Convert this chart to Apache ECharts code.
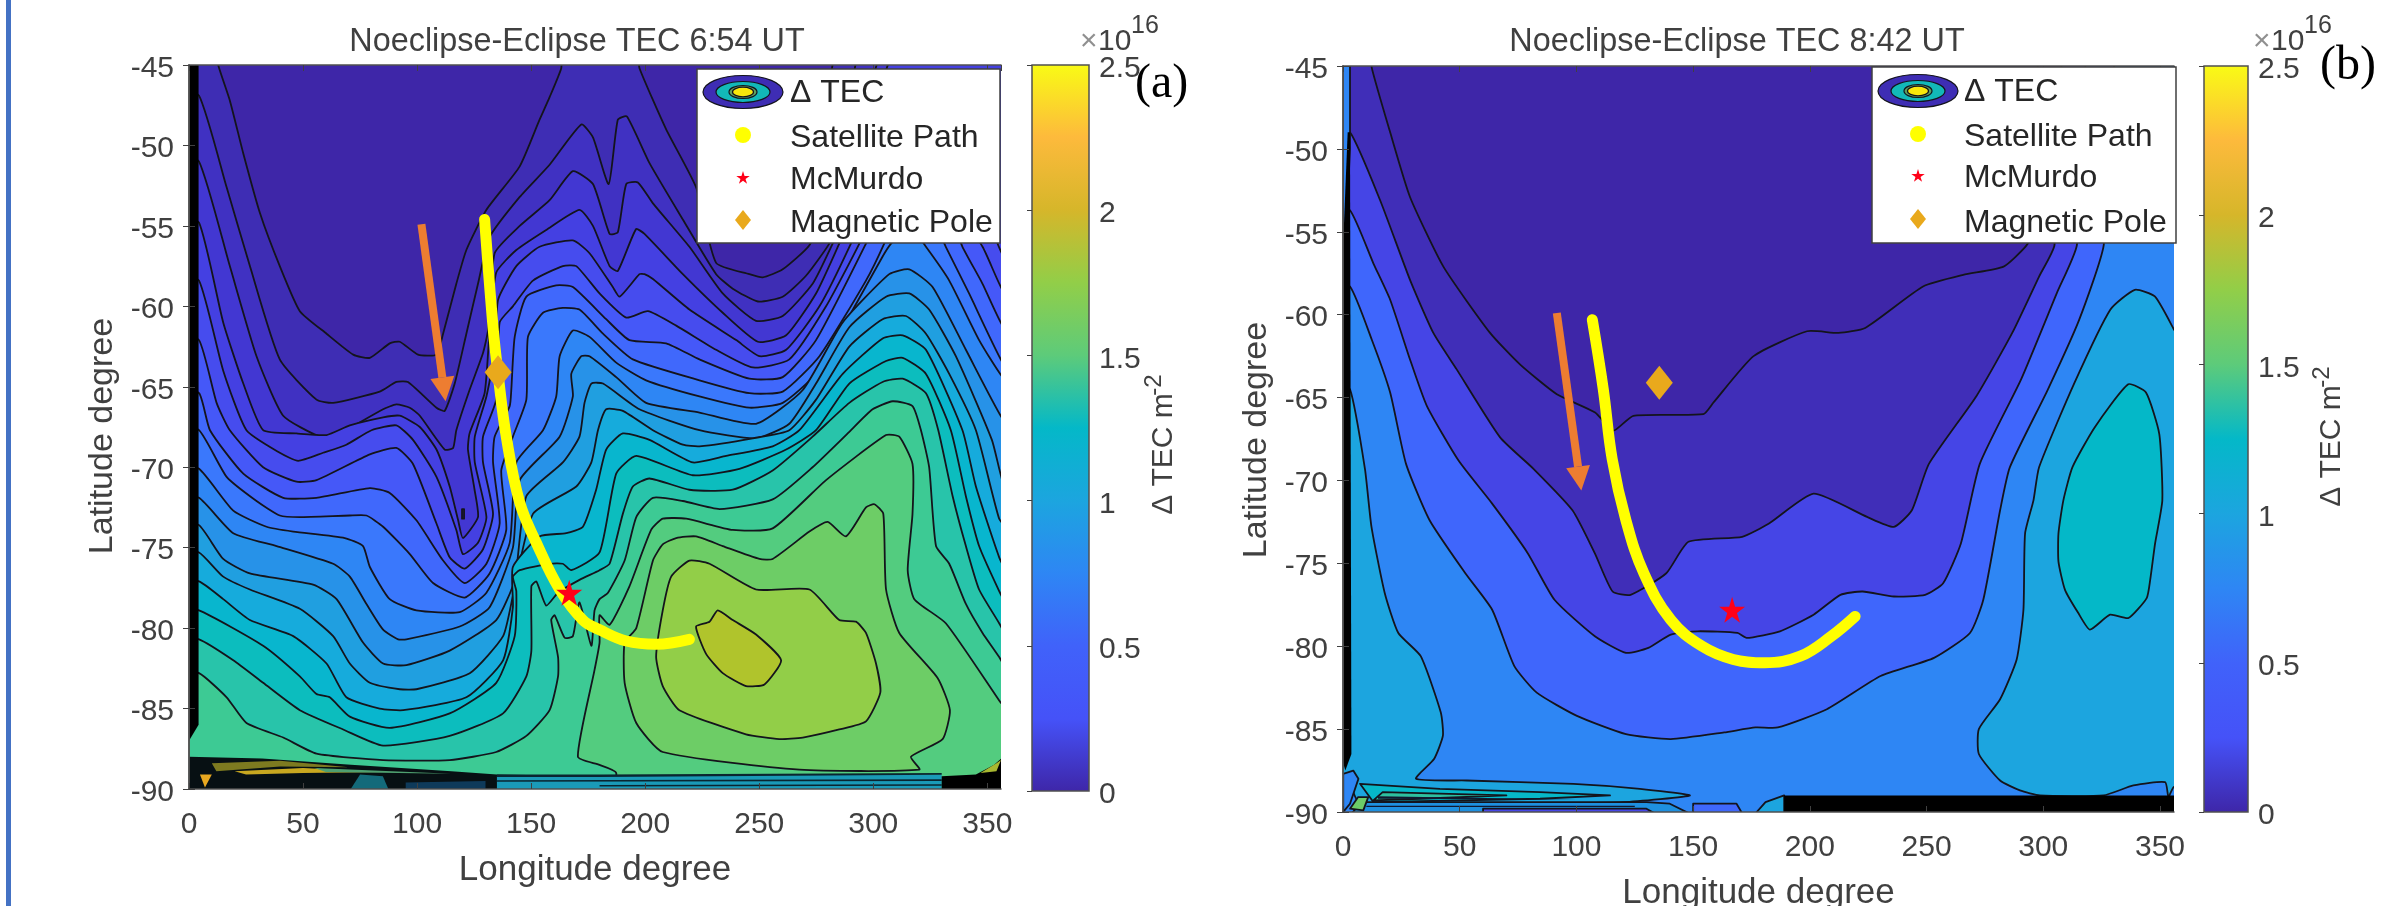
<!DOCTYPE html>
<html><head><meta charset="utf-8"><title>TEC</title>
<style>html,body{margin:0;padding:0;background:#fff}#c{width:2399px;height:906px}</style>
<script src="https://cdn.jsdelivr.net/npm/echarts@6/dist/echarts.min.js"></script></head>
<body><div id="c"></div><script>
const titleA='Noeclipse-Eclipse TEC 6:54 UT', titleB='Noeclipse-Eclipse TEC 8:42 UT';
const parulaStops=['#3E26A8','#4552F8','#4062FA','#2E86F4','#1CA5DF','#04B8C8','#5DCB7A','#92CE48','#D6B62A','#FDBA3C','#F9FB15'];
const a1=[[12,-44],[12.8,-45],[17.9,-47.2],[23.8,-50.5],[31.1,-54.2],[39.8,-57.5],[48.6,-60.3],[60.3,-61.7],[72,-63],[79.3,-63.2],[88,-62.3],[92.4,-62.2],[100.4,-63],[108.5,-63],[111.4,-61.7],[117.2,-58.6],[121.6,-56.5],[130.4,-54],[145,-51.3],[153.7,-48.4],[158.1,-47],[163.2,-45.2],[164,-44],[196,-44],[197.5,-45.2],[209.2,-49],[222.3,-52.6],[231.1,-57.3],[245.7,-58],[251.5,-58.2],[260.3,-57.7],[272,-56.2],[279.3,-53.8],[285,-44]];
const a2=[[4.4,-46.9],[16.5,-52.6],[26.7,-57.5],[39.8,-63.3],[55.9,-65.8],[63.2,-66],[83.6,-65.3],[90.9,-64.7],[96,-64.7],[108.5,-66.3],[112.1,-66.5],[116.5,-64.8],[121.6,-61.7],[126.7,-58.6],[131.8,-55.7],[145,-53.2],[158.1,-51.2],[172,-48.7],[177.1,-49.5],[184,-52.4],[188,-48.4],[192,-48.2],[201.9,-51.1],[216.5,-54.6],[231.1,-58],[238.4,-58.9],[249.4,-59.7],[260.3,-59.4],[270.5,-58.1],[280.7,-56.1],[288,-53.8],[295,-44]];
const a3=[[4.4,-51],[17.9,-57.5],[29.6,-63.1],[41.3,-66.8],[57.4,-68.1],[64.7,-68],[85.1,-66.4],[90.9,-66.1],[96.8,-66.3],[101.2,-66.8],[112.1,-68.9],[115.8,-68.8],[117.2,-67.7],[123,-65.2],[128.9,-62.9],[131.1,-61.5],[134,-56.7],[145,-55],[158.1,-53.4],[168.3,-51.6],[177.1,-52.4],[184.4,-55.5],[188,-55.4],[191.7,-52.4],[196.8,-52.3],[203.4,-53.6],[219.4,-56.3],[234,-59.2],[248.6,-60.9],[260.3,-60.6],[273.4,-58.6],[282.2,-56.1],[289.5,-53.8],[305,-44]];
const a4=[[4.4,-54.8],[15,-61],[23.8,-64.8],[32.5,-67.7],[47.1,-67.9],[60.3,-68],[70.5,-67.4],[85.1,-66.9],[92.4,-66.8],[101.2,-67.5],[108.5,-68.9],[114.3,-71.2],[118,-73.3],[120.1,-74.4],[126.7,-73.1],[125.2,-71.4],[122.3,-68.9],[123,-67.9],[129.6,-65.4],[131.8,-61.5],[134.7,-57.9],[143.5,-56.5],[156.6,-55.25],[171.2,-54],[177.1,-55],[184.4,-57.5],[188,-57.8],[196,-55.2],[199.7,-55.5],[216.5,-58],[234,-60.4],[249.4,-62.2],[261.8,-61.8],[274.9,-59.2],[285.1,-56.1],[292.4,-53.8],[310,-44]];
const a5=[[4.4,-58.4],[15,-64],[25.2,-67.7],[39.8,-69.1],[47.9,-69.6],[58.8,-69.1],[69,-68.6],[80,-67.7],[90.9,-67.4],[98.2,-68.3],[108.5,-70.6],[117.2,-73.9],[120.1,-75.4],[126.7,-74.7],[130.4,-73.1],[125.3,-69.7],[125.3,-68.1],[130.4,-65.6],[134,-62.9],[135.5,-59.6],[143.5,-57.5],[153.7,-56.3],[168.3,-55.9],[175.6,-56.7],[185.8,-58.8],[188.8,-59.4],[197.5,-58],[199.7,-58],[203.4,-58.3],[219.4,-60.2],[239.9,-62.1],[250.1,-63.1],[261.8,-62.7],[276.4,-60],[290.2,-56.1],[296.8,-53.8],[318.7,-53.4],[347.9,-54.2],[356.7,-56.8]];
const a6=[[4.4,-62.1],[12.1,-66],[17.9,-67.7],[32.5,-70],[47.1,-70.9],[55.9,-70.8],[79.3,-69.2],[90.9,-68.8],[98.2,-69.8],[108.5,-73.5],[114.3,-75.6],[120.9,-76.3],[128.9,-75.1],[133.3,-72.9],[128.9,-69.7],[128.9,-68.1],[134.7,-65.8],[136.2,-61],[142,-60],[150.8,-58.4],[163.9,-57.5],[169.8,-57.5],[180,-59.2],[191.7,-60.7],[201.2,-60.3],[213.6,-61.2],[231.1,-62.7],[247.2,-63.8],[263.2,-63.3],[279.3,-60],[293.9,-56.1],[301,-53.8],[333.3,-53.4],[347.9,-56.3],[356.7,-59]];
const a7=[[4.4,-65.4],[9.2,-67.7],[23.8,-70.4],[41.3,-71.9],[55.9,-71.9],[79.3,-71.3],[88,-71.6],[99.7,-73.3],[111.4,-75.8],[120.9,-77.2],[130.4,-76],[136.2,-73.5],[133.3,-69.7],[134,-68.1],[140.6,-66.2],[141.3,-65.2],[142.8,-61.9],[147.9,-59.4],[161,-58.7],[168.3,-58.8],[182.9,-60.8],[193.1,-62.1],[209.2,-62.3],[223.8,-63.3],[245.7,-64.5],[260.3,-64.4],[274.9,-62.1],[296.8,-56.1],[304,-53.8],[330.4,-53.4],[339.1,-56.3],[347.9,-58.6],[356.7,-61.2]];
const a8=[[4.4,-67.7],[16.5,-70.6],[29.6,-72.1],[39.8,-73],[48.6,-73.1],[70.5,-73],[77.8,-73],[85.1,-73.7],[96.8,-75.4],[107,-77.2],[120.9,-78.1],[131.8,-76.6],[139.1,-73.9],[136.9,-70.2],[142,-68.1],[147.9,-65.8],[148.6,-61.9],[155.2,-60.4],[163.9,-60.1],[171.2,-60.2],[181.5,-61.7],[194.6,-63.3],[223.8,-64.6],[245.7,-65.4],[260.3,-65.3],[276.4,-63.1],[296.8,-58.4],[304.8,-56.1],[311.4,-53.8],[323.1,-53.8],[331.8,-56.3],[342,-59.2],[356.7,-63.5]];
const a9=[[4.4,-70.1],[19.4,-72.7],[34,-73.7],[45.7,-74],[68.3,-74.4],[76.3,-74.9],[79.3,-76.2],[88,-78.2],[99.7,-78.9],[118.7,-79],[130.4,-77.8],[140.6,-74.7],[143.5,-69.7],[155.2,-67.7],[161,-65.6],[162.5,-63.1],[168.3,-61.5],[175.6,-61.9],[187.3,-63.5],[200.4,-64.6],[223.8,-65.6],[245.7,-66.3],[260.3,-66],[274.9,-64.2],[289.5,-60.6],[304.1,-56.9],[307.8,-56.1],[315.8,-55],[323.1,-56.3],[333.3,-58.4],[346.4,-62.1],[356.7,-64.4]];
const a10=[[4.4,-71.9],[19.4,-74.1],[38.4,-74.9],[63.2,-76],[70.5,-76.8],[77.8,-78.5],[85.1,-80.1],[91.7,-80.7],[95.3,-80.7],[118.7,-79.9],[131.8,-78.7],[142,-75],[145,-70.8],[162.5,-68.1],[168.3,-65.6],[167.6,-64.2],[172,-63.1],[175.6,-63.1],[187.3,-64.4],[200.4,-66],[223.8,-66.6],[248.6,-67.3],[269.1,-65.2],[286.6,-61],[307,-58],[315.8,-57.7],[326,-58.8],[340.6,-62.7],[356.7,-67]];
const a11=[[4.4,-73.6],[15,-75.7],[26.7,-76.6],[54.4,-77.3],[64.7,-78.2],[76.3,-80.9],[85.1,-82.2],[95.3,-82.3],[114.3,-81.4],[134.7,-79.5],[142.8,-77],[147.9,-71.8],[163.9,-69.7],[171.2,-68.1],[173.4,-66],[176.4,-64.8],[181.5,-64.8],[197.5,-66.4],[223.8,-67.7],[248.6,-68.2],[263.2,-67.3],[274.9,-64.8],[289.5,-61.3],[305.6,-59.4],[315.8,-59.2],[324.5,-60.2],[336.2,-63.1],[352,-68.3],[357,-71]];
const a12=[[4.4,-75.3],[15,-76.8],[26.7,-77.6],[48.6,-78.8],[63.2,-80.5],[70.5,-82.2],[79.3,-83.4],[92.4,-83.8],[99.7,-83.8],[123.1,-82.8],[137.7,-80.5],[142,-78],[150.8,-72.9],[169.8,-71.2],[176.4,-69.7],[179.3,-67.7],[182.9,-66.4],[190.2,-66.5],[203.4,-67.7],[216.5,-68.6],[223.8,-68.7],[247.2,-68.2],[263.2,-67.7],[274.9,-65.8],[289.5,-62.5],[304.1,-60.8],[314.3,-60.6],[323.1,-61.7],[333.3,-64.2],[345,-67.7],[355.2,-73.2],[360,-74]];
const a13=[[4.4,-77.1],[15,-78.2],[26.7,-79.5],[45.7,-80.5],[60.3,-82.2],[69,-84.3],[83.6,-85],[93.9,-85.1],[121.6,-84.3],[137.7,-82],[142,-78.7],[142,-76.2],[153.7,-74.3],[165.4,-74.1],[172.7,-73.7],[178.5,-71.4],[182.9,-68.9],[190.2,-67.9],[201.9,-68.3],[220.9,-69.7],[235.5,-69.3],[255.9,-68.7],[267.6,-67.7],[286.6,-64.2],[304.1,-62],[312.9,-61.8],[323.1,-62.7],[339.1,-67.7],[345,-71.2],[355.2,-75.6],[360,-77]];
const a14=[[4.4,-78.9],[32.5,-81.1],[48.6,-83],[55.9,-84.1],[61.7,-84.3],[70.5,-85.5],[88,-86.2],[114.3,-85.3],[134.7,-83.4],[142.8,-80.5],[143.5,-77.7],[142,-76.8],[145,-76.4],[158.1,-76],[163.9,-76],[167.6,-76.4],[180,-75.3],[187.3,-70.4],[196.1,-69.3],[220.9,-70.5],[241.3,-70.1],[261.8,-68.9],[274.9,-67.7],[289.5,-64.8],[305.6,-63.4],[312.9,-63.2],[323.1,-64.2],[334,-67.7],[340.6,-71.8],[346.4,-74.9],[355.2,-77.7],[360,-79]];
const a15=[[4.4,-80.7],[19.4,-82],[32.5,-83.4],[48.6,-85.1],[67.6,-86.3],[85.1,-87.3],[114.3,-86.7],[137.7,-85.3],[147.9,-83],[150.1,-81.4],[150.1,-77.4],[152.3,-77.1],[156.6,-78.6],[161.8,-77.8],[171.2,-77],[180,-76.4],[184.4,-76],[190.2,-72.9],[194.6,-71.2],[201.9,-70.7],[219.4,-71.4],[238.4,-71.4],[255.9,-70.2],[273.4,-68.1],[289.5,-66],[304.1,-64.7],[312.9,-64.5],[323.1,-65.4],[328.5,-67.7],[334.8,-71.8],[340.6,-74.9],[346.4,-77.6],[355.2,-79.7],[360,-81]];
const a16=[[4.4,-82.8],[16.5,-84.3],[25.2,-85.9],[41.3,-86.8],[55.9,-87.8],[85.1,-88.2],[114.3,-88.2],[134.7,-87.7],[147.9,-86.7],[158.1,-85.1],[161.8,-83],[161.8,-81.8],[158.8,-79.5],[160.3,-79.2],[164.7,-80.6],[168.3,-80.5],[171.2,-78.4],[176.4,-81.1],[177.8,-78.9],[180,-78.2],[183.7,-77.8],[191,-75.8],[196.1,-73.1],[203.4,-71.9],[216.5,-72.1],[232.6,-72.6],[255.9,-72],[273.4,-70],[289.5,-67.8],[299.7,-66.4],[308.5,-65.9],[317.2,-66.2],[320.9,-67.7],[324.5,-70],[327.5,-74.9],[333.3,-76],[340.6,-78.5],[347.9,-80.3],[355.2,-81.8],[360,-83]];
const a17=[[187.3,-95],[187.3,-89],[180,-88.5],[170.5,-88],[177.8,-82.6],[180,-80.9],[180,-79.2],[184.4,-79.8],[193.1,-77.4],[202.6,-73.9],[207.7,-73.2],[218,-73.2],[238.4,-73.9],[255.9,-73.8],[279.3,-70.8],[305.6,-68],[311.4,-68.1],[317.2,-69.8],[317.2,-72.9],[315.1,-76.4],[318,-78.2],[331.8,-79.7],[355.2,-84.5],[360,-85.5],[360,-95]];
const a18=[[213.6,-74.4],[222.3,-74.3],[234,-74.9],[250.1,-75.7],[255.9,-75.7],[272,-74],[280,-73.4],[288,-74.3],[296.8,-72.5],[300.5,-72.3],[304.4,-72.9],[305.6,-77.6],[311.4,-80.3],[328.2,-83.1],[333.6,-85.1],[330.4,-86.9],[316.5,-88],[320.2,-88.8],[267.6,-88.8],[207.7,-87.7],[196.1,-85.9],[191,-83.4],[191,-80.9],[196.1,-80],[203.4,-75.8],[207.7,-74.8]];
const a19=[[219.4,-75.8],[228.2,-76],[248.6,-77.6],[272,-77.6],[285.1,-79.5],[292.4,-79.6],[296.8,-80.3],[301.2,-82.2],[303.1,-84],[296.8,-85.8],[285.1,-86.3],[269.1,-86.8],[258.8,-86.9],[244.2,-86.6],[215,-85.1],[207.7,-83.6],[204.8,-81.8],[207.7,-78.9],[211.4,-76.8]];
const a20=[[222.3,-79.9],[228.2,-79.6],[231.8,-78.9],[238.4,-79.5],[248.6,-80.4],[259.6,-82],[252.3,-83.5],[244.2,-83.6],[234,-82.8],[226.7,-81.6]];
const aDot=[[119.7,-72.6],[120.6,-72.6],[120.6,-73.2],[119.7,-73.2]];
const aBar=[[0,-44],[4.2,-44],[4.2,-86],[0,-87]];
const aStrips=[
 {c:'#071013',p:[[0,-88],[32,-88.1],[71,-88.5],[115,-88.9],[135,-89.1],[180,-89.2],[180,-95],[0,-95]]},
 {c:'#1A9AB8',p:[[135,-89.2],[330,-89.1],[330,-95],[135,-95]]},
 {c:'#0a2530',p:[[135,-89.45],[330,-89.4],[330,-89.5],[135,-89.55]]},
 {c:'#0a2530',p:[[180,-89.75],[330,-89.7],[330,-89.8],[180,-89.85]]},
 {c:'#0a2530',p:[[135,-89.1],[180,-89.1],[330,-89],[330,-89.12],[180,-89.25],[135,-89.25]]},
 {c:'#000000',p:[[330,-89.2],[345,-89.1],[353,-88.5],[357,-88],[357,-95],[330,-95]]},
 {c:'#A8B830',p:[[347,-89],[354,-88.4],[356,-88.2],[354,-88.9]]},
 {c:'#7D7A20',p:[[10,-88.4],[40,-88.25],[70,-88.65],[40,-88.6],[12,-88.9]]},
 {c:'#C8A820',p:[[20,-88.9],[50,-88.7],[85,-88.95],[50,-89],[25,-89.1]]},
 {c:'#4FA070',p:[[55,-88.7],[115,-89.05],[60,-88.95]]},
 {c:'#E8A820',p:[[4.8,-89.1],[10,-89.1],[7,-89.9]]},
 {c:'#136A7A',p:[[75,-89.1],[85,-89.2],[88,-90.2],[70,-90.2]]},
 {c:'#0E3A5A',p:[[95,-89.6],[130,-89.5],[130,-90.2],[95,-90.2]]}
];
const aColors=['#3E2DB4','#4031C2','#4237D2','#4440E2','#464CEE','#4558F8','#4068FC','#3A78FC','#2E86F4','#2792E8','#209FE0','#16ABDC','#08B6CE','#0CBDBE','#28C4AA','#3DCA94','#53CC7F','#6DCD66','#92CE48','#B0C42C'];
const b1=[[12,-44],[12.3,-45.1],[20.2,-49],[28.7,-52.9],[43,-57.1],[63,-61.1],[75.8,-63],[91.6,-64.8],[108,-65.9],[115.8,-67],[124.4,-66.1],[154.4,-66],[158.7,-65.3],[175.9,-62.5],[198.8,-61],[212.2,-61.1],[223.7,-60.8],[248.5,-58.3],[265.7,-57.6],[283,-57.1],[292.4,-55.9],[296,-55],[300,-44]];
const b2=[[3,-49],[15.9,-53.1],[28.7,-57.9],[38.7,-61.1],[48.7,-63.3],[67.3,-67.4],[81.6,-69.3],[98.3,-71.8],[107.9,-74.4],[115.5,-76.7],[123.2,-76.9],[138.5,-75.6],[148,-73.7],[171,-73.4],[182.5,-72.6],[201.6,-70.8],[224.5,-72.2],[236,-72.8],[243.7,-71.8],[251,-69],[271.4,-64.9],[286.7,-61.1],[298.2,-57.7],[304.8,-55.8],[310,-44]];
const b3=[[3,-53.7],[13,-56.9],[20.2,-59.1],[28.7,-62.7],[35.9,-65.5],[49.5,-68.8],[63.9,-71.4],[79.2,-74.4],[90.6,-77.2],[107.9,-79.4],[121.2,-80.4],[130.8,-80.1],[140.4,-79.3],[151.9,-79.1],[169,-79.2],[172.9,-79.5],[187.2,-79.1],[201.6,-78.1],[213.1,-76.9],[222.6,-76.7],[236,-77],[249.4,-76.9],[257.1,-76.2],[264.7,-73.8],[272.8,-69],[290.5,-63.9],[305.8,-58.7],[314.4,-55.8],[320,-44]];
const b4=[[3,-58.3],[12.3,-61.5],[20.2,-64.7],[27,-69],[37.1,-72.4],[52.4,-75.6],[63.9,-77.8],[73.4,-81.2],[83,-82.8],[100.2,-84.2],[121.2,-85.3],[140.4,-85.6],[163.3,-85.2],[176.7,-84.9],[186.3,-84.9],[207.3,-83.8],[230.3,-81.8],[253.2,-80.7],[268.6,-79.2],[274.3,-77.2],[281.5,-71.8],[285.7,-69.2],[302,-64.5],[315.4,-60.3],[325.9,-55.8],[332,-44]];
const b5=[[281.5,-83.2],[288.6,-80.8],[291.5,-77.8],[292.2,-73.2],[295.8,-71.2],[298.2,-69.2],[313.4,-64.1],[328.7,-59.7],[339.2,-58.5],[347.8,-58.9],[356,-60.9],[360,-62],[360,-88.4],[355.8,-88.5],[353.6,-89.1],[352.2,-88.2],[338.6,-88.4],[325.8,-89],[298.6,-89],[290,-88.7],[281.5,-88.1],[272.4,-86.5],[272.4,-85]];
const b5Left=[[-3,-64.5],[3,-64.5],[9.4,-69.3],[12.2,-72.8],[17.9,-76.8],[23.7,-79.2],[33.3,-80.6],[41.9,-84],[42.8,-85.4],[39,-86.8],[31.3,-88],[53,-88.1],[98.7,-88.3],[127.2,-88.6],[148.6,-89],[120,-89.4],[70,-89.5],[7.3,-89.5],[2,-88],[-3,-88]];
const b6=[[312.5,-69.2],[322,-66.8],[336.4,-64.2],[344,-64.7],[349.7,-67.2],[351,-71.2],[347.9,-73.8],[345.8,-76],[344.3,-77.1],[336.5,-78.3],[328.6,-78.1],[320,-79],[315,-78],[309.3,-76.6],[306.5,-74.9],[306.5,-73.2],[308.6,-71.2]];
const bBar=[[2,-49],[3,-49],[3.6,-86.5],[1,-87.5],[0,-87],[0,-56]];
const bTop=[[0,-44],[3,-44],[3,-50],[1,-56],[0,-56]];
const bStrips=[
 {c:'#2E86F4',p:[[0.1,-87.7],[4.4,-87.5],[6.6,-88],[3,-89.5],[0.1,-90]],s:1},
 {c:'#06B8C8',p:[[7.3,-88.3],[41.5,-88.6],[84.4,-88.8],[114.4,-89],[84.4,-89.2],[13,-89.4]],s:1},
 {c:'#2EC0A0',p:[[17,-88.8],[70,-89],[33,-89.2],[13,-89.3]],s:1},
 {c:'#1E90E0',p:[[8,-89.4],[130,-89.4],[140,-89.5],[150,-90.2],[3,-90.2]],s:1},
 {c:'#4646E8',p:[[60,-89.8],[130,-89.8],[135,-90.2],[60,-90.2]],s:1},
 {c:'#101830',p:[[10,-89.62],[125,-89.62],[125,-89.7],[10,-89.7]]},
 {c:'#101830',p:[[15,-89.05],[100,-89.25],[15,-89.2]]},
 {c:'#6CCC68',p:[[3,-89.8],[6.5,-89.1],[10.8,-89.1],[8.7,-89.9]],s:1},
 {c:'#3F68FC',p:[[150,-89.5],[168.6,-89.5],[171.5,-90.2],[150,-90.2]],s:1},
 {c:'#1CA5DF',p:[[176,-90.2],[181,-89.4],[189,-89],[189,-90.2]],s:1},
 {c:'#000000',p:[[189,-89],[360,-89],[360,-95],[189,-95]]}
];
const bColors=['#402EB8','#4545E6','#3F66FC','#2E86F4'];
const bBand='#1CA5DF', bCore='#04B8C8', baseColor='#3E26A8';
const pathA=[[129.6,-54.6],[133.3,-61.3],[135.5,-64.2],[139.1,-68.1],[145,-72.2],[152.3,-74.7],[162.5,-77.6],[172.7,-79.5],[180,-80.1],[191.7,-80.8],[204.8,-81],[219.4,-80.7]];
const pathB=[[106.8,-60.3],[111.5,-64.5],[115.3,-68.7],[121.2,-72.4],[128.9,-75.6],[140.4,-78.4],[153.8,-80],[167.2,-80.8],[180.6,-81],[195.9,-80.6],[209.2,-79.4],[219.4,-78.2]];
const arrowA=[[101.9,-54.9],[112.5,-65.9]], arrowB=[[91.6,-59.9],[102.1,-70.6]];
const mcmurdo=[166.7,-77.8], magPole=[135.5,-64.1];
const starPath='path://M50,0 L61,35 L98,35 L68,57 L79,91 L50,70 L21,91 L32,57 L2,35 L39,35 Z';
const starPts=[[50,0],[61,35],[98,35],[68,57],[79,91],[50,70],[21,91],[32,57],[2,35],[39,35]];
const cMax=2.5;

function below(p){const l=p[p.length-1];return p.concat([[360,l[1]],[360,-95],[-5,-95],[-5,p[0][1]]]);}
const INK='#14141c';
function poly(p,fill,stroke,smooth){return {p,fill,stroke:stroke===undefined?INK:stroke,smooth:smooth===undefined?0.18:smooth};}
const frame=[[-5,-40],[360,-40],[360,-95],[-5,-95]];
const polysA=[poly(frame,baseColor,null,0)].concat([a1,a2,a3,a4,a5,a6,a7,a8,a9,a10,a11,a12,a13,a14,a15,a16].map((p,i)=>poly(below(p),aColors[i])));
polysA.push(poly(a17,aColors[16]),poly(a18,aColors[17]),poly(a19,aColors[18]),poly(a20,aColors[19]),poly(aDot,'#2A1F8A',undefined,0));
aStrips.forEach(s=>polysA.push(poly(s.p,s.c,null,0)));
polysA.push(poly(aBar,'#000',null,0));
const polysB=[poly(frame,baseColor,null,0)].concat([b1,b2,b3,b4].map((p,i)=>poly(below(p),bColors[i])));
polysB.push(poly(b5,bBand),poly(b5Left,bBand),poly(b6,bCore),poly(bTop,'#2E86F4',undefined,0),poly(bBar,'#000',null,0));
bStrips.forEach(s=>polysB.push(poly(s.p,s.c,s.s?INK:null,0)));

function contourSeries(i,polys){return {type:'custom',name:'Δ TEC',xAxisIndex:i*3,yAxisIndex:i*3,clip:true,silent:true,z:2,
 data:polys.map((_,k)=>[k]),
 renderItem:(params,api)=>{const q=polys[params.dataIndex];
  return {type:'polygon',shape:{points:q.p.map(v=>api.coord(v)),smooth:q.smooth},
   style:{fill:q.fill,stroke:q.stroke||'none',lineWidth:q.stroke?1.8:0,lineJoin:'round'}};}};}
function pathSeries(i,d){return {type:'line',name:'Satellite Path',xAxisIndex:i*3,yAxisIndex:i*3,data:d,smooth:0.4,showSymbol:false,z:4,silent:true,
 lineStyle:{color:'#FFFF00',width:11,cap:'round'}};}
function arrowSeries(i,d){return {type:'custom',name:'Arrow',xAxisIndex:i*3,yAxisIndex:i*3,clip:true,silent:true,z:4,data:[d[0].concat(d[1])],
 renderItem:(params,api)=>{const s=api.coord([api.value(0),api.value(1)]),e=api.coord([api.value(2),api.value(3)]);
  const dx=e[0]-s[0],dy=e[1]-s[1],L=Math.hypot(dx,dy),ux=dx/L,uy=dy/L,nx=-uy,ny=ux,h=24,w=12;
  const b=[e[0]-ux*h,e[1]-uy*h];
  return {type:'group',children:[
   {type:'line',shape:{x1:s[0],y1:s[1],x2:b[0],y2:b[1]},style:{stroke:'#ED7D31',lineWidth:8}},
   {type:'polygon',shape:{points:[e,[b[0]+nx*w,b[1]+ny*w],[b[0]-nx*w,b[1]-ny*w]]},style:{fill:'#ED7D31'}}]};}};}
function markerSeries(i){return [
 {type:'scatter',name:'Magnetic Pole',xAxisIndex:i*3,yAxisIndex:i*3,data:[magPole],symbol:'diamond',symbolSize:[27,34],itemStyle:{color:'#E9A91C',opacity:1},z:5,silent:true},
 {type:'scatter',name:'McMurdo',xAxisIndex:i*3,yAxisIndex:i*3,data:[mcmurdo],symbol:starPath,symbolSize:[26,26],itemStyle:{color:'#FF0018',opacity:1},z:6,silent:true}];}
function barSeries(ix){return {type:'custom',name:'Colorbar',xAxisIndex:ix,yAxisIndex:ix,clip:false,silent:true,data:[[0,0,1,cMax]],
 renderItem:(params,api)=>{const a=api.coord([0,0]),b=api.coord([1,cMax]);
  return {type:'rect',shape:{x:a[0],y:b[1],width:b[0]-a[0],height:a[1]-b[1]},
   style:{stroke:'#505050',lineWidth:1.5,fill:new echarts.graphic.LinearGradient(0,1,0,0,parulaStops.map((c,k)=>({offset:k/(parulaStops.length-1),color:c})))}};}};}

const TXT='#404040', LAB={color:TXT,fontFamily:'Liberation Sans',fontSize:30};
const line={show:true,lineStyle:{color:'#505050',width:1.5}};
function axes(g,m){
 const tick={inside:true,length:6,lineStyle:{color:'#404040'}};
 return {
 x:[{gridIndex:g,type:'value',min:0,max:356,interval:50,position:'bottom',z:10,axisLine:line,axisTick:tick,splitLine:{show:false},
   axisLabel:{...LAB,margin:21,showMaxLabel:false},name:'Longitude degree',nameLocation:'middle',nameGap:64,nameTextStyle:{color:TXT,fontFamily:'Liberation Sans',fontSize:35}},
  {gridIndex:g,type:'value',min:0,max:356,interval:50,position:'top',z:10,axisLine:line,axisTick:tick,axisLabel:{show:false},splitLine:{show:false}}],
 y:[{gridIndex:g,type:'value',min:-90,max:-45,interval:5,position:'left',z:10,axisLine:line,axisTick:tick,splitLine:{show:false},
   axisLabel:{...LAB,margin:15,verticalAlign:'top',lineHeight:7},name:'Latitude degree',nameLocation:'middle',nameGap:69,nameTextStyle:{color:TXT,fontFamily:'Liberation Sans',fontSize:34,padding:[0,m,0,0]}},
  {gridIndex:g,type:'value',min:-90,max:-45,interval:5,position:'right',z:10,axisLine:line,axisTick:tick,axisLabel:{show:false},splitLine:{show:false}}]};
}
function cbAxes(g){return {
 x:{gridIndex:g,type:'value',min:0,max:1,show:false},
 y:{gridIndex:g,type:'value',min:0,max:cMax,interval:0.5,position:'right',z:10,axisLine:{show:false},axisTick:{inside:true,length:5,lineStyle:{color:'#404040'}},splitLine:{show:false},axisLabel:{...LAB,margin:10,verticalAlign:'top',lineHeight:8}}};}

const grids=[{left:189,top:65,width:812,height:724},{left:1032,top:65,width:57,height:726},{left:1343,top:66,width:831,height:746},{left:2204,top:66,width:44,height:746}].map(g=>({...g,outerBoundsMode:'none'}));
const A=axes(0,18),B=axes(2,2),CA=cbAxes(1),CB=cbAxes(3);
const xAxis=[A.x[0],A.x[1],CA.x,B.x[0],B.x[1],CB.x], yAxis=[A.y[0],A.y[1],CA.y,B.y[0],B.y[1],CB.y];

function legend(x0,y0,w,h,cx,tx,ys,iy){const t=(s,y)=>({type:'text',z:101,x:tx,y,style:{text:s,fill:'#262626',font:'32px "Liberation Sans"',textVerticalAlign:'middle'}});
 const el=(rx,ry,fill)=>({type:'ellipse',z:101,shape:{cx,cy:iy[0],rx,ry},style:{fill,stroke:'#14141c',lineWidth:1.2}});
 return [{type:'rect',z:100,shape:{x:x0,y:y0,width:w,height:h},style:{fill:'#fff',stroke:'#404040',lineWidth:1.5}},
  el(40,16.5,'#3E2DB4'),el(27,10.5,'#12B8B8'),el(14,6.5,'#5FA060'),el(10.5,4.8,'#F8E80C'),
  {type:'circle',z:101,shape:{cx,cy:iy[1],r:8},style:{fill:'#FFFF00'}},
  {type:'polygon',z:101,shape:{points:starPts.map(p=>[cx-7+p[0]*0.14,iy[2]-7+p[1]*0.14])},style:{fill:'#FF0018'}},
  {type:'polygon',z:101,shape:{points:[[cx,iy[3]-10],[cx+8,iy[3]],[cx,iy[3]+10],[cx-8,iy[3]]]},style:{fill:'#E9A91C'}},
  t('Δ TEC',ys[0]),t('Satellite Path',ys[1]),t('McMurdo',ys[2]),t('Magnetic Pole',ys[3])];}
function exp(x,y){return [{type:'text',z:20,x,y,style:{text:'×',fill:'#909090',font:'30px "Liberation Sans"',textVerticalAlign:'middle'}},
 {type:'text',z:20,x:x+18,y,style:{text:'10',fill:TXT,font:'30px "Liberation Sans"',textVerticalAlign:'middle'}},
 {type:'text',z:20,x:x+51,y:y-16,style:{text:'16',fill:TXT,font:'25px "Liberation Sans"',textVerticalAlign:'middle'}}];}
function unit(x,y){return [{type:'text',z:20,x,y,rotation:Math.PI/2,style:{text:'Δ TEC m',fill:TXT,font:'30px "Liberation Sans"',textAlign:'center',textVerticalAlign:'middle'}},
 {type:'text',z:20,x:x-10,y:y-69,rotation:Math.PI/2,style:{text:'-2',fill:TXT,font:'24px "Liberation Sans"',textAlign:'center',textVerticalAlign:'middle'}}];}
const graphic=[{type:'rect',shape:{x:6,y:0,width:5,height:906},style:{fill:'#4472C4'}},
 ...legend(697,69,303,174,743,790,[93,138,180,223],[92,135,178,220]),
 ...legend(1872,67,304,176,1918,1964,[92,137,178,223],[91,134,176,219]),
 ...exp(1080,42),...exp(2253,42),...unit(1164,454),...unit(2332,446),
 {type:'text',z:20,x:1135,y:84,style:{text:'(a)',fill:'#000',font:'48px "Liberation Serif"',textVerticalAlign:'middle'}},
 {type:'text',z:20,x:2320,y:66,style:{text:'(b)',fill:'#000',font:'48px "Liberation Serif"',textVerticalAlign:'middle'}}];

const series=[contourSeries(0,polysA),pathSeries(0,pathA),arrowSeries(0,arrowA),...markerSeries(0),barSeries(2),
 contourSeries(1,polysB),pathSeries(1,pathB),arrowSeries(1,arrowB),...markerSeries(1),barSeries(5)];
const chart=echarts.init(document.getElementById('c'),null,{renderer:'canvas',width:2399,height:906});
chart.setOption({animation:false,backgroundColor:'#fff',
 title:[{text:titleA,left:572,top:21,textAlign:'center',textStyle:{color:TXT,fontFamily:'Liberation Sans',fontWeight:'normal',fontSize:32.4}},
        {text:titleB,left:1732,top:21,textAlign:'center',textStyle:{color:TXT,fontFamily:'Liberation Sans',fontWeight:'normal',fontSize:32.4}}],
 grid:grids,xAxis,yAxis,series,graphic});
</script></body></html>
